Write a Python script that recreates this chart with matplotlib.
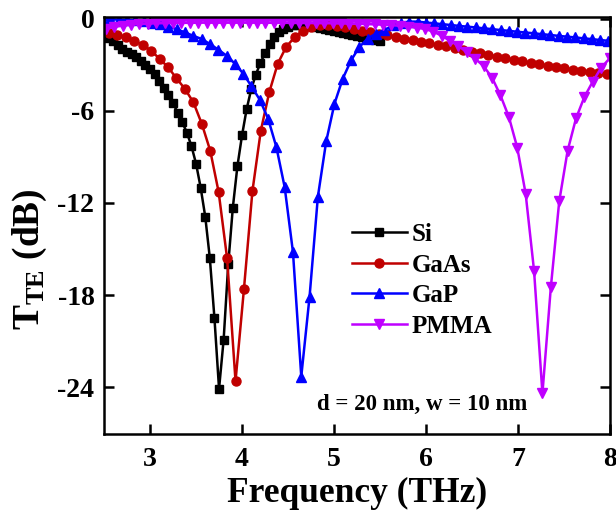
import numpy as np
import matplotlib
matplotlib.use("Agg")
import matplotlib.pyplot as plt

plt.rcParams['font.family'] = ['Liberation Serif', 'DejaVu Serif']
plt.rcParams['font.weight'] = 'bold'
plt.rcParams['axes.unicode_minus'] = False
plt.rcParams['mathtext.fontset'] = 'custom'
plt.rcParams['mathtext.rm'] = 'Liberation Serif:bold'
plt.rcParams['mathtext.bf'] = 'Liberation Serif:bold'
plt.rcParams['mathtext.it'] = 'Liberation Serif:bold'

# Transmission spectra (dB) for the four materials
si_freq = np.linspace(2.5, 5.5, 61)
si_T = [-1.05, -1.25, -1.48, -1.72, -1.97, -2.15, -2.33, -2.52, -2.75, -3.00,
        -3.28, -3.62, -4.05, -4.50, -4.98, -5.52, -6.12, -6.75, -7.42, -8.30,
        -9.45, -11.0, -12.9, -15.6, -19.5, -24.1, -20.9, -16.0, -12.3, -9.6,
        -7.6, -5.9, -4.6, -3.65, -2.9, -2.25, -1.65, -1.2, -0.88, -0.68,
        -0.52, -0.45, -0.42, -0.42, -0.45, -0.5, -0.55, -0.6, -0.67, -0.73,
        -0.8, -0.87, -0.93, -1.0, -1.07, -1.13, -1.2, -1.27, -1.33, -1.4,
        -1.47]

gaas_freq = 2.462 + 0.0917 * np.arange(62)
gaas_T = [-0.82, -0.95, -1.08, -1.22, -1.44, -1.73, -2.10, -2.62, -3.17, -3.89,
          -4.58, -5.45, -6.85, -8.6, -11.3, -15.6, -23.6, -17.6, -11.25, -7.3,
          -4.8, -2.95, -1.85, -1.22, -0.78, -0.53, -0.43, -0.44, -0.5, -0.58,
          -0.68, -0.78, -0.9, -1.0, -1.1, -1.19, -1.31, -1.42, -1.52, -1.62,
          -1.71, -1.82, -1.93, -2.04, -2.15, -2.26, -2.37, -2.48, -2.58, -2.68,
          -2.78, -2.88, -2.97, -3.06, -3.15, -3.24, -3.32, -3.40, -3.47, -3.54,
          -3.62, -3.70]

gap_freq = 2.477 + 0.0903 * np.arange(63)
gap_T = [-0.05, -0.05, -0.07, -0.09, -0.12, -0.18, -0.27, -0.38, -0.52, -0.7,
         -0.9, -1.13, -1.33, -1.66, -2.02, -2.42, -2.93, -3.58, -4.41, -5.28,
         -6.51, -8.36, -10.97, -15.2, -23.3, -18.1, -11.6, -8.0, -5.54, -3.91,
         -2.72, -1.85, -1.30, -0.98, -0.76, -0.45, -0.28, -0.2, -0.2, -0.26,
         -0.31, -0.37, -0.42, -0.48, -0.53, -0.58, -0.64, -0.69, -0.75, -0.8,
         -0.86, -0.91, -0.96, -1.02, -1.07, -1.13, -1.18, -1.23, -1.29, -1.34,
         -1.4, -1.45, -1.5]

pmma_freq = 2.428 + 0.0913 * np.arange(63)
pmma_T = [-0.85, -0.68, -0.55, -0.46, -0.4, -0.36, -0.33, -0.31, -0.3, -0.29,
          -0.28, -0.28, -0.27, -0.27, -0.27, -0.27, -0.27, -0.27, -0.27, -0.27,
          -0.27, -0.28, -0.28, -0.28, -0.29, -0.29, -0.3, -0.3, -0.31, -0.32,
          -0.33, -0.34, -0.36, -0.38, -0.4, -0.43, -0.47, -0.52, -0.59, -0.68,
          -0.85, -1.12, -1.45, -1.78, -2.2, -2.62, -3.1, -3.85, -5.0, -6.4,
          -8.4, -11.4, -16.4, -24.4, -17.5, -11.9, -8.6, -6.5, -5.1, -4.1,
          -3.2, -2.6, -2.1]

fig = plt.figure(figsize=(6.16, 5.15), dpi=100)
ax = fig.add_axes([0.169, 0.157, 0.821, 0.810])

lw = 1.8
ax.plot(si_freq, si_T, color='black', marker='s', markersize=5.5, lw=lw, label='Si')
ax.plot(gaas_freq, gaas_T, color='#C00000', marker='o', markersize=6.5, lw=lw, label='GaAs')
ax.plot(gap_freq, gap_T, color='#0000FF', marker='^', markersize=7, lw=lw, label='GaP')
ax.plot(pmma_freq, pmma_T, color='#BF00FF', marker='v', markersize=7, lw=lw, label='PMMA')

ax.set_xlim(2.5, 8)
ax.set_ylim(-27.05, 0.1)
ax.set_xticks([3, 4, 5, 6, 7, 8])
ax.set_yticks([0, -6, -12, -18, -24])

for s in ax.spines.values():
    s.set_linewidth(1.8)
ax.tick_params(direction='in', length=7, width=1.8, top=True, right=True,
               labelsize=20)
ax.tick_params(axis='x', pad=9)
ax.tick_params(axis='y', pad=7)

ax.set_xlabel('Frequency (THz)', fontsize=25.5, fontweight='bold', labelpad=4)
ax.set_ylabel(r'T$_{\mathrm{TE}}$ (dB)', fontsize=27, fontweight='bold')
ax.yaxis.set_label_coords(-0.108, 0.42)

ax.legend(loc='upper left', bbox_to_anchor=(0.47, 0.53), frameon=False,
          fontsize=18, handlelength=2.2, handletextpad=0.2, labelspacing=0.3,
          borderaxespad=0)

ax.text(0.836, 0.07, 'd = 20 nm, w = 10 nm', transform=ax.transAxes,
        ha='right', va='center', fontsize=16.5, fontweight='bold')

fig.savefig('out.png', dpi=100)
